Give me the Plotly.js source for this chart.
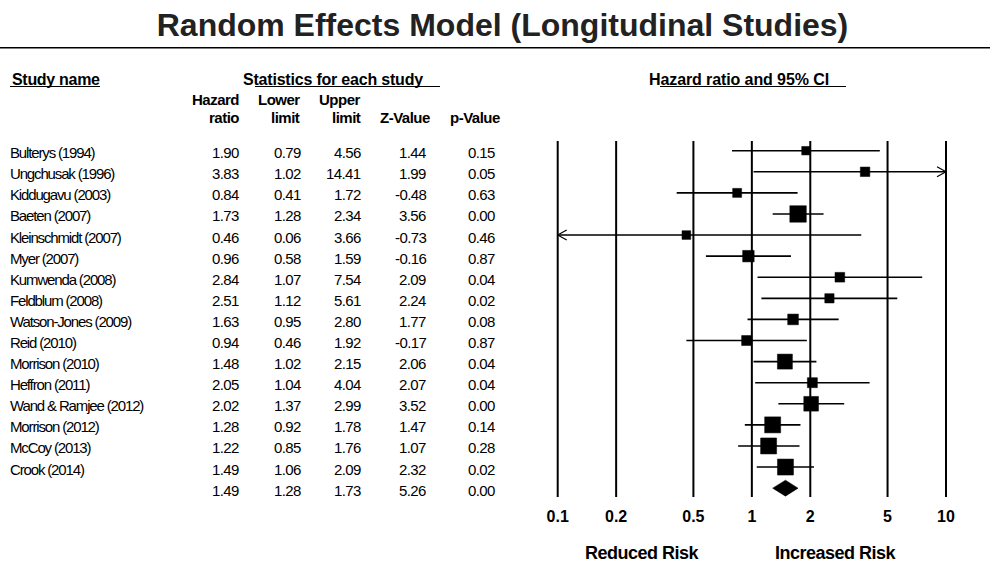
<!DOCTYPE html>
<html><head><meta charset="utf-8">
<script src="https://cdn.plot.ly/plotly-3.0.1.min.js"></script>
<style>html,body{margin:0;padding:0;background:#fff}</style>
</head><body><div id="chart" style="width:990px;height:562px"></div>
<script>
// ---------- data ----------
const studies = ['Bulterys (1994)','Ungchusak (1996)','Kiddugavu (2003)','Baeten (2007)','Kleinschmidt (2007)','Myer (2007)','Kumwenda (2008)','Feldblum (2008)','Watson-Jones (2009)','Reid (2010)','Morrison (2010)','Heffron (2011)','Wand & Ramjee (2012)','Morrison (2012)','McCoy (2013)','Crook (2014)'];
const hazardRatio = [1.90,3.83,0.84,1.73,0.46,0.96,2.84,2.51,1.63,0.94,1.48,2.05,2.02,1.28,1.22,1.49];
const lowerLimit  = [0.79,1.02,0.41,1.28,0.06,0.58,1.07,1.12,0.95,0.46,1.02,1.04,1.37,0.92,0.85,1.06];
const upperLimit  = [4.56,14.41,1.72,2.34,3.66,1.59,7.54,5.61,2.80,1.92,2.15,4.04,2.99,1.78,1.76,2.09];
const zValue      = [1.44,1.99,-0.48,3.56,-0.73,-0.16,2.09,2.24,1.77,-0.17,2.06,2.07,3.52,1.47,1.07,2.32];
const pValue      = [0.15,0.05,0.63,0.00,0.46,0.87,0.04,0.02,0.08,0.87,0.04,0.04,0.00,0.14,0.28,0.02];
const pooled      = [1.49,1.28,1.73,5.26,0.00]; // HR, lower, upper, Z, p
const tickVals = [0.1,0.2,0.5,1,2,5,10];
const tickText = ['0.1','0.2','0.5','1','2','5','10'];
const colHeaders1 = ['Hazard','Lower','Upper','',''];
const colHeaders2 = ['ratio','limit','limit','Z-Value','p-Value'];

// ---------- styles / layout helpers ----------
const boxSize = [8.5,9.5,9,16.5,8.7,11.5,9.7,9.3,10.7,10,15,10,14.7,16,16,16];
const W = 990, H = 562;
const px = v => v / W, py = v => 1 - v / H;
const AX_MIN = 0.1, AX_MAX = 10;
const colRight = [241,303,363,428,497];
const hdrRight = [241,302,363,432,502];
const n = studies.length;
const ROWPX = 21.09;
const FONT = 'Liberation Sans, Arial, sans-serif';
const dataFont = {family: FONT, size: 15, color: '#000'};
const boldFont = s => ({family: FONT, size: s, color: '#000', weight: 'bold'});
const tight = (t, s) => '<span style="letter-spacing:' + s + 'px">' + t + '</span>';

// CI lines (clipped to axis)
const ciX = [], ciY = [];
for (let i = 0; i < n; i++) {
  ciX.push(Math.max(lowerLimit[i], AX_MIN), Math.min(upperLimit[i], AX_MAX), null);
  ciY.push(i, i, null);
}
// chevrons for clipped CIs
const arrowDx = Math.pow(10, 9 / 194.15), arrowDy = 5 / ROWPX;
const chX = [], chY = [];
for (let i = 0; i < n; i++) {
  if (upperLimit[i] > AX_MAX) { chX.push(AX_MAX / arrowDx, AX_MAX, AX_MAX / arrowDx, null); chY.push(i - arrowDy, i, i + arrowDy, null); }
  if (lowerLimit[i] < AX_MIN) { chX.push(AX_MIN * arrowDx, AX_MIN, AX_MIN * arrowDx, null); chY.push(i - arrowDy, i, i + arrowDy, null); }
}
const dh = 8 / ROWPX;
const traces = [
  {x: ciX, y: ciY, mode: 'lines', line: {color: '#000', width: 1.6}, hoverinfo: 'skip', cliponaxis: false},
  {x: chX, y: chY, mode: 'lines', line: {color: '#000', width: 1.2}, hoverinfo: 'skip', cliponaxis: false},
  {x: hazardRatio, y: studies.map((s, i) => i), mode: 'markers', opacity: 1,
   marker: {symbol: 'square', size: boxSize, color: '#000', opacity: 1, line: {width: 0.5, color: '#000'}}, cliponaxis: false},
  {x: [pooled[1], pooled[0], pooled[2], pooled[0], pooled[1]], y: [n, n - dh, n, n + dh, n], mode: 'lines', fill: 'toself', fillcolor: '#000', line: {width: 0.5, color: '#000'}, cliponaxis: false}
];

const shapes = [];
tickVals.forEach(v => shapes.push({type: 'line', xref: 'x', yref: 'y domain', x0: v, x1: v, y0: 0, y1: 1, line: {color: '#000', width: 2}}));
shapes.push({type: 'line', xref: 'paper', yref: 'paper', x0: 0, x1: 1, y0: py(47.7), y1: py(47.7), line: {color: '#000', width: 1.5}});
[[10,100],[255,440],[660,846]].forEach(([a, b]) => shapes.push({type: 'line', xref: 'paper', yref: 'paper', x0: px(a), x1: px(b), y0: py(86.5), y1: py(86.5), line: {color: '#000', width: 1.2}}));

const ann = [];
const hdr = (t, x, y, xa, sz, sp) => ann.push({text: tight(t, sp), x: px(x), y: py(y), xref: 'paper', yref: 'paper', xanchor: xa, yanchor: 'middle', showarrow: false, font: boldFont(sz)});
hdr('Study name', 10, 79.5, 'left', 16, -0.3);
hdr('Statistics for each study', 241, 79.5, 'left', 16, -0.2);
hdr('Hazard ratio and 95% CI', 647, 79.5, 'left', 16, -0.1);
colHeaders1.forEach((t, c) => { if (t) hdr(t, hdrRight[c], 100, 'right', 15, -0.5); });
colHeaders2.forEach((t, c) => { if (t) hdr(t, hdrRight[c], 117, 'right', 15, -0.5); });
for (let i = 0; i < n; i++) {
  ann.push({text: tight(studies[i], -1.15), x: px(8), y: i, xref: 'paper', yref: 'y', xanchor: 'left', yanchor: 'middle', yshift: -2, showarrow: false, font: dataFont});
  const vals = [hazardRatio[i], lowerLimit[i], upperLimit[i], zValue[i], pValue[i]];
  vals.forEach((v, c) => ann.push({text: tight(v.toFixed(2), -0.6), x: px(colRight[c]), y: i, xref: 'paper', yref: 'y', xanchor: 'right', yanchor: 'middle', yshift: -2, showarrow: false, font: dataFont}));
}
pooled.forEach((v, c) => ann.push({text: tight(v.toFixed(2), -0.6), x: px(colRight[c]), y: n, xref: 'paper', yref: 'y', xanchor: 'right', yanchor: 'middle', yshift: -2, showarrow: false, font: dataFont}));
hdr('Reduced Risk', 642, 552.7, 'center', 18, -0.5);
hdr('Increased Risk', 836, 552.7, 'center', 18, -0.5);

const pad = 0.05;
const layout = {
  width: W, height: H, margin: {l: 0, r: 0, t: 0, b: 0},
  paper_bgcolor: '#fff', plot_bgcolor: '#fff', showlegend: false,
  title: {text: 'Random Effects Model (Longitudinal Studies)', x: px(502.5), xanchor: 'center', y: py(25), yanchor: 'middle', font: {family: FONT, size: 32, color: '#222', weight: 'bold'}},
  xaxis: {type: 'log', range: [Math.log10(AX_MIN) - pad, Math.log10(AX_MAX) + pad],
          domain: [px(557.7 - pad * 194.15), px(946 + pad * 194.15)],
          tickvals: tickVals, ticktext: tickText, ticks: '', showgrid: false, zeroline: false, showline: false,
          tickfont: boldFont(16), ticklabelstandoff: 8, fixedrange: true},
  yaxis: {domain: [py(497), py(141)], range: [(497 - 150.7) / ROWPX, (141 - 150.7) / ROWPX],
          visible: false, fixedrange: true},
  shapes: shapes, annotations: ann
};
Plotly.newPlot('chart', traces, layout, {staticPlot: true});
</script></body></html>
